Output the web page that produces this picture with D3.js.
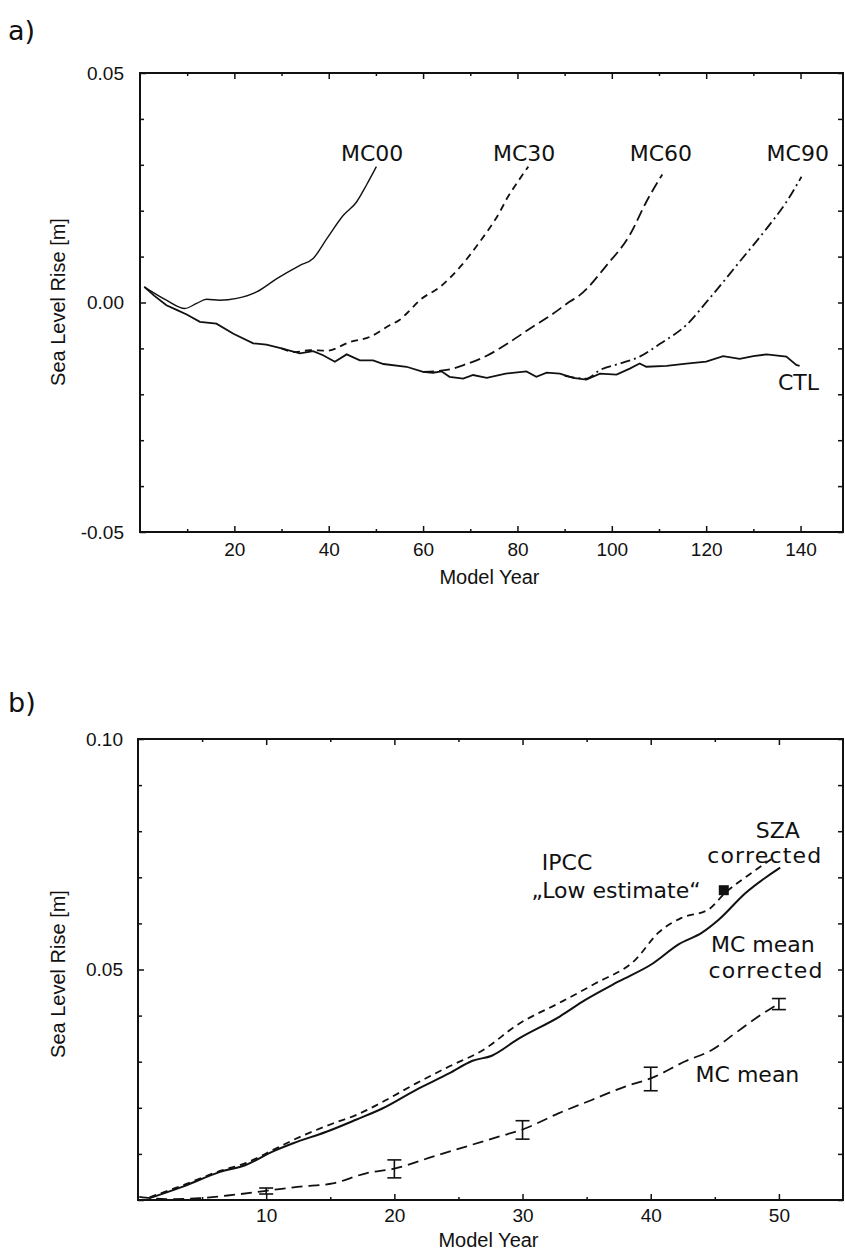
<!DOCTYPE html>
<html>
<head>
<meta charset="utf-8">
<script src="https://cdn.jsdelivr.net/npm/d3@7"></script>
<style>
    body { margin: 0; background: #fff; }
    svg { display: block; }
    .tick text { font-family: "Liberation Sans", Arial, sans-serif; font-size: 19px; fill: #111; }
    .tick line { stroke: #111; stroke-width: 1.5; }
    .axis-title { font-family: "Liberation Sans", Arial, sans-serif; font-size: 20px; fill: #111; }
    .note { font-family: "DejaVu Sans", sans-serif; font-size: 22px; fill: #111; }
    .panel-tag { font-family: "DejaVu Sans", sans-serif; font-size: 27px; fill: #111; }
</style>
</head>
<body>
<div class="chart"></div>
<script>
// ---- panel a: [model year, sea level rise in m] ----
const ctl = [
    [0.9, 0.0034], [3, 0.0015], [5.6, -0.0006], [8, -0.0017], [9.9, -0.0026], [12.7, -0.0042],
    [16.2, -0.0046], [19.8, -0.0068], [24, -0.0089], [26.8, -0.0092], [30, -0.0100], [32.5, -0.0107],
    [33.9, -0.0111], [36.7, -0.0106], [38.8, -0.0115], [41.3, -0.0129], [43.8, -0.0113], [46.6, -0.0126],
    [49.4, -0.0126], [51.6, -0.0134], [56.5, -0.0140], [60, -0.0151], [62.1, -0.0153], [63.9, -0.0150],
    [65.6, -0.0162], [68.5, -0.0166], [70.6, -0.0158], [73.5, -0.0164], [77.5, -0.0155], [81.9, -0.0150],
    [84, -0.0162], [86.2, -0.0153], [89, -0.0155], [91.8, -0.0164], [94.6, -0.0168], [97.5, -0.0155],
    [101, -0.0157], [103.8, -0.0144], [105.9, -0.0133], [107.3, -0.0140], [111.6, -0.0138], [115.8, -0.0133],
    [120, -0.0129], [123.6, -0.0117], [127.1, -0.0123], [130, -0.0117], [132.8, -0.0113], [137, -0.0118],
    [139.1, -0.0136], [139.8, -0.0138]
];
const mc00 = [
    [0.9, 0.0034], [5.6, 0.0005], [9.5, -0.0013], [12, -0.0002], [14.1, 0.0007], [16.9, 0.0005],
    [20.5, 0.0009], [24.7, 0.0023], [29, 0.0052], [33.9, 0.0081], [36.7, 0.0096], [39.6, 0.0139],
    [43.1, 0.0190], [45.9, 0.0219], [48, 0.0256], [50.1, 0.0296]
];
const mc30 = [
    [30, -0.0100], [33, -0.0108], [36, -0.0104], [39.6, -0.0105], [44.5, -0.0086], [48.7, -0.0075],
    [53, -0.0049], [55, -0.0038], [57.2, -0.0017], [59.3, 0.0005], [63.6, 0.0034], [67.8, 0.0077],
    [72, 0.0132], [76.3, 0.0198], [77.8, 0.0227], [80, 0.0262], [82.3, 0.0296]
];
const mc60 = [
    [60, -0.0151], [65, -0.0147], [69.2, -0.0134], [73.5, -0.0116], [78.4, -0.0086], [82.6, -0.0057],
    [87.6, -0.0024], [91.1, 0.0002], [93.2, 0.0016], [98.9, 0.0081], [103.8, 0.0147], [107.3, 0.0219],
    [110.7, 0.0279]
];
const mc90 = [
    [90, -0.0160], [94.6, -0.0166], [97.5, -0.0147], [101.7, -0.0133], [105.9, -0.0118], [110.2, -0.0090],
    [115.8, -0.0049], [120.4, 0.0005], [127.1, 0.0089], [132.8, 0.0161], [137, 0.0219], [140.2, 0.0274]
];
const labelsA = [
    { text: "MC00", year: 42.6, value: 0.0309 },
    { text: "MC30", year: 74.8, value: 0.0309 },
    { text: "MC60", year: 103.8, value: 0.0309 },
    { text: "MC90", year: 132.8, value: 0.0309 },
    { text: "CTL", year: 135.2, value: -0.0190 }
];

// ---- panel b ----
const mcMeanCorrected = [
    [0.9, 0.0004], [3.5, 0.0029], [6.4, 0.0061], [8.4, 0.0076], [10.5, 0.0105], [12.1, 0.0123],
    [14.7, 0.0148], [17, 0.0174], [19.1, 0.0199], [21.7, 0.0239], [24.3, 0.0275], [26.1, 0.0302],
    [27.6, 0.0313], [29.7, 0.0350], [32.9, 0.0398], [34.9, 0.0434], [37.5, 0.0474], [40.1, 0.0512],
    [42.2, 0.0555], [44, 0.0580], [45.3, 0.0608], [47.4, 0.0666], [50.1, 0.0721]
];
const szaCorrected = [
    [0.9, 0.0006], [3.5, 0.0032], [6.4, 0.0063], [8.4, 0.0080], [10.5, 0.0108], [12.1, 0.0130],
    [15.2, 0.0166], [17, 0.0184], [19.1, 0.0213], [21.7, 0.0253], [24.3, 0.0290], [26.9, 0.0325],
    [29.7, 0.0382], [32.9, 0.0428], [35.7, 0.0470], [38.8, 0.0521], [40.6, 0.0580], [42.4, 0.0612],
    [44.5, 0.0630], [45.8, 0.0666], [47.9, 0.0710], [49.7, 0.0745]
];
const mcMean = [
    [0.1, 0.0007], [2.2, 0.0002], [4.8, 0.0004], [7.4, 0.0011], [10, 0.0020], [12.6, 0.0029],
    [15.2, 0.0036], [17.8, 0.0058], [20, 0.0068], [23, 0.0094], [25.6, 0.0116], [28.2, 0.0138],
    [30.1, 0.0154], [32.8, 0.0188], [35.4, 0.0217], [38, 0.0246], [40.1, 0.0265], [42.7, 0.0301],
    [44.8, 0.0326], [46.6, 0.0362], [48.4, 0.0398], [49.8, 0.0423]
];
const errYears = [10, 20, 30, 40, 50];
const errLow = [0.0013, 0.0048, 0.0132, 0.0237, 0.0413];
const errHigh = [0.0026, 0.0087, 0.0172, 0.0288, 0.0437];
const ipccLow = [45.7, 0.0672];
const labelsB = [
    { text: "SZA", year: 48.2, value: 0.0786 },
    { text: "corrected", year: 44.4, value: 0.0731, spacing: 1.2 },
    { text: "IPCC", year: 31.5, value: 0.0716 },
    { text: "\u201eLow estimate\u201c", year: 30.7, value: 0.0655 },
    { text: "MC mean", year: 44.7, value: 0.0538 },
    { text: "corrected", year: 44.5, value: 0.0482, spacing: 1.2 },
    { text: "MC mean", year: 43.5, value: 0.0256 }
];

const width = 845;
const height = 1253;

const svg = d3.select(".chart")
    .append("svg")
    .attr("width", width)
    .attr("height", height);

function drawAxes(g, x, y, cfg) {
    const [left, right] = x.range();
    const [bottom, top] = y.range();

    const bottomMajor = g.append("g")
        .attr("transform", `translate(0,${bottom})`)
        .call(d3.axisBottom(x).tickValues(cfg.xMajor).tickSize(-6).tickPadding(cfg.xPad).tickFormat(d3.format("d")));
    g.append("g")
        .attr("transform", `translate(0,${bottom})`)
        .call(d3.axisBottom(x).tickValues(cfg.xMinor).tickSize(-3).tickFormat(""));
    g.append("g")
        .attr("transform", `translate(0,${top})`)
        .call(d3.axisTop(x).tickValues(cfg.xMajor).tickSize(-6).tickFormat(""));
    g.append("g")
        .attr("transform", `translate(0,${top})`)
        .call(d3.axisTop(x).tickValues(cfg.xMinor).tickSize(-3).tickFormat(""));

    g.append("g")
        .attr("transform", `translate(${left},0)`)
        .call(d3.axisLeft(y).tickValues(cfg.yMajor).tickSize(-6).tickPadding(cfg.yPad).tickFormat(d => d.toFixed(2)));
    g.append("g")
        .attr("transform", `translate(${left},0)`)
        .call(d3.axisLeft(y).tickValues(cfg.yMinor).tickSize(-4).tickFormat(""));
    g.append("g")
        .attr("transform", `translate(${right},0)`)
        .call(d3.axisRight(y).tickValues(cfg.yMinor.concat(cfg.yMajor)).tickSize(-5).tickFormat(""));

    g.selectAll(".domain").remove();
    if (cfg.hideY) g.selectAll(".tick text").filter(d => cfg.hideY.includes(d)).remove();

    g.append("rect")
        .attr("x", left)
        .attr("y", top)
        .attr("width", right - left)
        .attr("height", bottom - top)
        .attr("fill", "none")
        .attr("stroke", "#111")
        .attr("stroke-width", 2);

    g.append("text")
        .attr("class", "axis-title")
        .attr("x", (left + right) / 2 - 2)
        .attr("y", cfg.xTitleY)
        .attr("text-anchor", "middle")
        .text("Model Year");

    g.append("text")
        .attr("class", "axis-title")
        .attr("transform", `translate(65,${cfg.yTitleY}) rotate(-90)`)
        .attr("text-anchor", "middle")
        .text("Sea Level Rise [m]");
}

function drawLine(g, data, x, y, dash, width, curve) {
    g.append("path")
        .datum(data)
        .attr("fill", "none")
        .attr("stroke", "#111")
        .attr("stroke-width", width)
        .attr("stroke-dasharray", dash)
        .attr("d", d3.line().x(d => x(d[0])).y(d => y(d[1])).curve(curve));
}

// Panel a
const xA = d3.scaleLinear().domain([0, 149]).range([140, 843]);
const yA = d3.scaleLinear().domain([-0.05, 0.05]).range([532, 73]);
const gA = svg.append("g");

gA.append("text").attr("class", "panel-tag").attr("x", 8).attr("y", 40).text("a)");

drawAxes(gA, xA, yA, {
    xMajor: [20, 40, 60, 80, 100, 120, 140],
    xMinor: [10, 30, 50, 70, 90, 110, 130],
    yMajor: [-0.05, 0, 0.05],
    yMinor: [-0.04, -0.03, -0.02, -0.01, 0.01, 0.02, 0.03, 0.04],
    xPad: 11,
    yPad: 16,
    xTitleY: 584,
    yTitleY: 302
});

drawLine(gA, ctl, xA, yA, null, 1.8, d3.curveLinear);
drawLine(gA, mc00, xA, yA, null, 1.4, d3.curveMonotoneX);
drawLine(gA, mc30, xA, yA, "7,5", 1.8, d3.curveMonotoneX);
drawLine(gA, mc60, xA, yA, "11,5", 1.8, d3.curveMonotoneX);
drawLine(gA, mc90, xA, yA, "10,4,2,4", 1.8, d3.curveMonotoneX);

gA.selectAll("text.note")
    .data(labelsA)
    .enter()
    .append("text")
    .attr("class", "note")
    .attr("x", d => xA(d.year))
    .attr("y", d => yA(d.value))
    .text(d => d.text);

// Panel b
const xB = d3.scaleLinear().domain([0, 55]).range([138, 843]);
const yB = d3.scaleLinear().domain([0, 0.10]).range([1200, 739]);
const gB = svg.append("g");

gB.append("text").attr("class", "panel-tag").attr("x", 8).attr("y", 712).text("b)");

drawAxes(gB, xB, yB, {
    xMajor: [10, 20, 30, 40, 50],
    xMinor: [5, 15, 25, 35, 45],
    yMajor: [0, 0.05, 0.10],
    yMinor: [0.01, 0.02, 0.03, 0.04, 0.06, 0.07, 0.08, 0.09],
    hideY: [0],
    xPad: 9,
    yPad: 15,
    xTitleY: 1247,
    yTitleY: 974
});

drawLine(gB, mcMeanCorrected, xB, yB, null, 2, d3.curveMonotoneX);
drawLine(gB, szaCorrected, xB, yB, "7,5", 1.8, d3.curveMonotoneX);
drawLine(gB, mcMean, xB, yB, "11,6", 1.8, d3.curveMonotoneX);

const bars = gB.append("g")
    .selectAll("g")
    .data(errYears.map((yr, i) => ({ year: yr, lo: errLow[i], hi: errHigh[i] })))
    .enter()
    .append("g")
    .attr("stroke", "#111")
    .attr("stroke-width", 1.6);
bars.append("line")
    .attr("x1", d => xB(d.year)).attr("x2", d => xB(d.year))
    .attr("y1", d => yB(d.lo)).attr("y2", d => yB(d.hi));
bars.append("line")
    .attr("x1", d => xB(d.year) - 7).attr("x2", d => xB(d.year) + 7)
    .attr("y1", d => yB(d.lo)).attr("y2", d => yB(d.lo));
bars.append("line")
    .attr("x1", d => xB(d.year) - 7).attr("x2", d => xB(d.year) + 7)
    .attr("y1", d => yB(d.hi)).attr("y2", d => yB(d.hi));

gB.append("rect")
    .attr("x", xB(ipccLow[0]) - 5)
    .attr("y", yB(ipccLow[1]) - 5)
    .attr("width", 10)
    .attr("height", 10)
    .attr("fill", "#111");

gB.selectAll("text.note")
    .data(labelsB)
    .enter()
    .append("text")
    .attr("class", "note")
    .attr("x", d => xB(d.year))
    .attr("y", d => yB(d.value))
    .attr("letter-spacing", d => d.spacing || 0)
    .text(d => d.text);
</script>
</body>
</html>
